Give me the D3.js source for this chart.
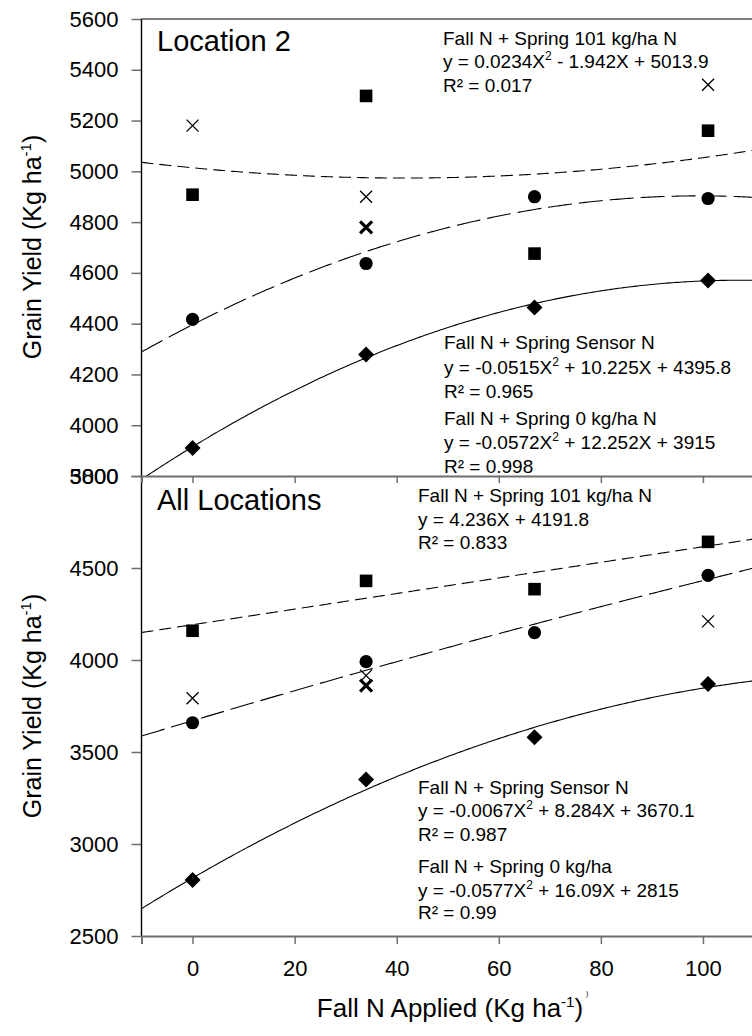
<!DOCTYPE html>
<html><head><meta charset="utf-8">
<script src="https://cdn.jsdelivr.net/npm/d3@7"></script>
<style>
body{margin:0;background:#fff}
text{font-family:"Liberation Sans",Arial,sans-serif;fill:#000}
</style>
</head><body>
<svg id="c" width="752" height="1036"></svg>
<script>
// ---------- data ----------
const fallN = [0, 34, 67, 101];
const xTicks = [0, 20, 40, 60, 80, 100];

// Location 2 (top panel)
const loc2Spring101 = [4908, 5297, 4676, 5160];
const loc2Sensor    = [4417, 4637, 4900, 4893];
const loc2Spring0   = [3910, 4279, 4464, 4570];
const loc2CrossN    = [0, 34, 101];
const loc2Cross     = [5180, 4900, 5341];
const loc2BoldN     = [34];
const loc2Bold      = [4779];
const loc2YTicks    = [3800, 4000, 4200, 4400, 4600, 4800, 5000, 5200, 5400, 5600];
const loc2Fit101    = [0.0234, -1.942, 5013.9];
const loc2FitSensor = [-0.0515, 10.225, 4395.8];
const loc2Fit0      = [-0.0572, 12.252, 3915];
const loc2Note101    = ["Fall N + Spring 101 kg/ha N", "y = 0.0234X^2 - 1.942X + 5013.9", "R² = 0.017"];
const loc2NoteSensor = ["Fall N + Spring Sensor N", "y = -0.0515X^2 + 10.225X + 4395.8", "R² = 0.965"];
const loc2Note0      = ["Fall N + Spring 0 kg/ha N", "y = -0.0572X^2 + 12.252X + 3915", "R² = 0.998"];

// All locations (bottom panel)
const allSpring101 = [4159, 4430, 4385, 4642];
const allSensor    = [3659, 3991, 4149, 4460];
const allSpring0   = [2804, 3350, 3580, 3870];
const allCrossN    = [0, 34, 101];
const allCross     = [3792, 3915, 4210];
const allBoldN     = [34];
const allBold      = [3861];
const allYTicks    = [2500, 3000, 3500, 4000, 4500, 5000];
const allFit101    = [0, 4.236, 4191.8];
const allFitSensor = [-0.0067, 8.284, 3670.1];
const allFit0      = [-0.0577, 16.09, 2815];
const allNote101    = ["Fall N + Spring 101 kg/ha N", "y = 4.236X + 4191.8", "R² = 0.833"];
const allNoteSensor = ["Fall N + Spring Sensor N", "y = -0.0067X^2 + 8.284X + 3670.1", "R² = 0.987"];
const allNote0      = ["Fall N + Spring 0 kg/ha", "y = -0.0577X^2 + 16.09X + 2815", "R² = 0.99"];

// ---------- layout ----------
const svg = d3.select("#c");
const x = d3.scaleLinear().domain([-10, 110]).range([141.5, 754]);
const yTop = d3.scaleLinear().domain([3800, 5600]).range([476, 19]);
const yBot = d3.scaleLinear().domain([2500, 5000]).range([936, 476]);
const grey = "#6e6e6e";

function clip(id, y0, y1) {
  svg.append("clipPath").attr("id", id).append("rect")
    .attr("x", x(-10)).attr("y", y0).attr("width", 760 - x(-10)).attr("height", y1 - y0);
}
clip("clipTop", 19, 476);
clip("clipBot", 476, 936);

function fitCurve(g, y, coef, dash) {
  const xs = d3.range(-10, 110.01, 0.5);
  const line = d3.line().x(d => x(d)).y(d => y(coef[0] * d * d + coef[1] * d + coef[2]));
  g.append("path").datum(xs).attr("d", line).attr("fill", "none")
    .attr("stroke", "#000").attr("stroke-width", 1.1)
    .attr("stroke-dasharray", dash);
}

function markers(g, y, xs, vals, type) {
  xs.forEach((xv, i) => {
    const cx = x(xv), cy = y(vals[i]);
    if (type === "square") {
      g.append("rect").attr("x", cx - 6.3).attr("y", cy - 6.3).attr("width", 12.6).attr("height", 12.6).attr("fill", "#000");
    } else if (type === "circle") {
      g.append("circle").attr("cx", cx).attr("cy", cy).attr("r", 6.6).attr("fill", "#000");
    } else if (type === "diamond") {
      g.append("path").attr("d", `M${cx},${cy - 8}L${cx + 8},${cy}L${cx},${cy + 8}L${cx - 8},${cy}Z`).attr("fill", "#000");
    } else {
      const s = 6, w = type === "bold" ? 3.2 : 1.3;
      g.append("path").attr("d", `M${cx - s},${cy - s}L${cx + s},${cy + s}M${cx - s},${cy + s}L${cx + s},${cy - s}`)
        .attr("stroke", "#000").attr("stroke-width", w).attr("fill", "none");
    }
  });
}

function note(lines, x0, baselines) {
  lines.forEach((ln, i) => {
    const t = svg.append("text").attr("x", x0).attr("y", baselines[i]).attr("font-size", 19);
    const parts = ln.split("^2");
    t.append("tspan").text(parts[0]);
    if (parts.length > 1) {
      t.append("tspan").attr("font-size", 12).attr("dy", -8).text("2");
      t.append("tspan").attr("dy", 8).text(parts[1]);
    }
  });
}

function yAxis(y, ticks) {
  const ax = svg.append("g").attr("transform", `translate(${x(-10)},0)`)
    .call(d3.axisLeft(y).tickValues(ticks).tickSize(10).tickPadding(13).tickFormat(d3.format("d")));
  ax.select(".domain").remove();
  ax.selectAll("line").attr("stroke", grey).attr("stroke-width", 1.5);
  ax.selectAll("text").attr("font-size", 22).attr("font-family", "Liberation Sans, Arial, sans-serif").attr("fill", "#000");
}

function panel(clipId, y, d) {
  const g = svg.append("g").attr("clip-path", `url(#${clipId})`);
  fitCurve(g, y, d.f101, "12,6");
  fitCurve(g, y, d.fSen, "24,7");
  fitCurve(g, y, d.f0, null);
  markers(g, y, fallN, d.s101, "square");
  markers(g, y, fallN, d.sen, "circle");
  markers(g, y, fallN, d.s0, "diamond");
  markers(g, y, d.crossN, d.cross, "cross");
  markers(g, y, d.boldN, d.bold, "bold");
}

panel("clipTop", yTop, {f101: loc2Fit101, fSen: loc2FitSensor, f0: loc2Fit0,
  s101: loc2Spring101, sen: loc2Sensor, s0: loc2Spring0,
  crossN: loc2CrossN, cross: loc2Cross, boldN: loc2BoldN, bold: loc2Bold});
panel("clipBot", yBot, {f101: allFit101, fSen: allFitSensor, f0: allFit0,
  s101: allSpring101, sen: allSensor, s0: allSpring0,
  crossN: allCrossN, cross: allCross, boldN: allBoldN, bold: allBold});

// axes
yAxis(yTop, loc2YTicks);
yAxis(yBot, allYTicks);

// top frame line
svg.append("line").attr("x1", x(-10)).attr("x2", 752).attr("y1", yTop(5600)).attr("y2", yTop(5600))
  .attr("stroke", "#000").attr("stroke-width", 1.2);
// y-axis line
svg.append("line").attr("x1", x(-10)).attr("x2", x(-10)).attr("y1", yTop(5600)).attr("y2", yBot(2500))
  .attr("stroke", "#000").attr("stroke-width", 1.4);

// x axes
const xaTop = svg.append("g").attr("transform", `translate(0,${yTop(3800)})`)
  .call(d3.axisBottom(x).tickValues(xTicks).tickSize(7).tickFormat(""));
const xaBot = svg.append("g").attr("transform", `translate(0,${yBot(2500)})`)
  .call(d3.axisBottom(x).tickValues(xTicks).tickSize(8).tickPadding(16));
[xaTop, xaBot].forEach(a => {
  a.select(".domain").attr("stroke", grey).attr("stroke-width", 2);
  a.selectAll("line").attr("stroke", grey).attr("stroke-width", 1.5);
  a.selectAll("text").attr("font-size", 22).attr("font-family", "Liberation Sans, Arial, sans-serif").attr("fill", "#000");
});

// panel titles
svg.append("text").attr("x", 157).attr("y", 51).attr("font-size", 29).text("Location 2");
svg.append("text").attr("x", 157).attr("y", 510).attr("font-size", 29).text("All Locations");

// annotations
note(loc2Note101, 443, [44.5, 68, 92]);
note(loc2NoteSensor, 444, [349, 373.5, 398]);
note(loc2Note0, 444, [425, 449, 473]);
note(allNote101, 418, [502, 526, 549]);
note(allNoteSensor, 418, [794, 817, 841]);
note(allNote0, 418, [873, 897, 919]);

// y titles
function yTitle(cy) {
  const t = svg.append("text").attr("transform", `translate(41,${cy}) rotate(-90)`)
    .attr("text-anchor", "middle").attr("font-size", 25);
  t.append("tspan").text("Grain Yield (Kg ha");
  t.append("tspan").attr("font-size", 15).attr("dy", -10).text("-1");
  t.append("tspan").attr("dy", 10).text(")");
}
yTitle(247);
yTitle(706);

// x title
const xt = svg.append("text").attr("x", 450).attr("y", 1017).attr("text-anchor", "middle").attr("font-size", 26);
xt.append("tspan").text("Fall N Applied (Kg ha");
xt.append("tspan").attr("font-size", 15).attr("dy", -10).text("-1");
xt.append("tspan").attr("dy", 10).text(")");
svg.append("text").attr("x", 586).attr("y", 996).attr("font-size", 7).attr("fill", "#999").text(")");
</script>
</body></html>
